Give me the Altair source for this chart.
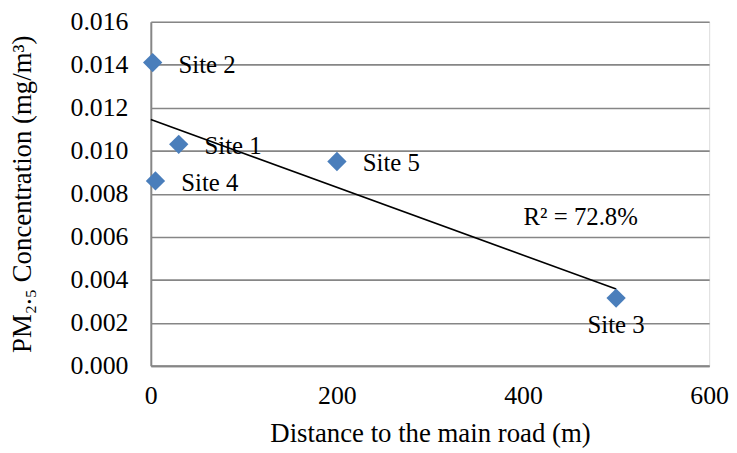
import altair as alt
import pandas as pd

sites = ["Site 1", "Site 2", "Site 3", "Site 4", "Site 5"]
distance_m = [30, 2, 500, 5, 200]
pm25_mg_m3 = [0.0103, 0.0141, 0.00315, 0.0086, 0.0095]

x_ticks = [0, 200, 400, 600]
y_ticks = [0.000, 0.002, 0.004, 0.006, 0.008, 0.010, 0.012, 0.014, 0.016]

r2_label = ["R\u00b2 = 72.8%"]
r2_pos_x = [462]
r2_pos_y = [0.0069]

df = pd.DataFrame({"site": sites, "dist": distance_m, "pm": pm25_mg_m3})
ann = pd.DataFrame({"label": r2_label, "x": r2_pos_x, "y": r2_pos_y})

FONT = "Liberation Serif"
GRID = "#868686"
FS = 25
TFS = 27

xscale = alt.Scale(domain=[0, 600], nice=False, zero=False)
yscale = alt.Scale(domain=[0, 0.016], nice=False)

xaxis = alt.Axis(values=x_ticks, title="Distance to the main road (m)", grid=False,
                 labelFontSize=26, titleFontSize=TFS, labelFont=FONT, titleFont=FONT,
                 labelColor="black", titleColor="black", domainColor=GRID, domainWidth=2,
                 ticks=False, labelPadding=17, titlePadding=12, titleFontWeight="normal",
                 labelFlush=False)
yaxis = alt.Axis(values=y_ticks, format=".3f", title="PM\u2082.\u2085  Concentration  (mg/m\u00b3)",
                 grid=True, gridColor=GRID, gridWidth=1.6,
                 labelFontSize=26, titleFontSize=TFS, labelFont=FONT, titleFont=FONT,
                 labelColor="black", titleColor="black", domainColor=GRID, domainWidth=2,
                 ticks=False, labelPadding=23, titlePadding=34, titleFontWeight="normal")

base = alt.Chart(df)

points = base.mark_point(shape="diamond", filled=True, size=380, color="#4a7ebb", opacity=1).encode(
    x=alt.X("dist:Q", scale=xscale, axis=xaxis),
    y=alt.Y("pm:Q", scale=yscale, axis=yaxis),
)

trend = base.transform_regression("dist", "pm", extent=[0, 500]).mark_line(
    color="black", strokeWidth=1.6).encode(
    x=alt.X("dist:Q", scale=xscale),
    y=alt.Y("pm:Q", scale=yscale),
)

labels_right = base.transform_filter(alt.datum.site != "Site 3").mark_text(
    align="left", baseline="middle", dx=26, dy=2, fontSize=FS, font=FONT, color="black").encode(
    x=alt.X("dist:Q", scale=xscale),
    y=alt.Y("pm:Q", scale=yscale),
    text="site:N",
)

labels_below = base.transform_filter(alt.datum.site == "Site 3").mark_text(
    align="center", baseline="top", dy=15, fontSize=FS, font=FONT, color="black").encode(
    x=alt.X("dist:Q", scale=xscale),
    y=alt.Y("pm:Q", scale=yscale),
    text="site:N",
)

r2 = alt.Chart(ann).mark_text(align="center", baseline="middle", fontSize=FS, font=FONT, color="black").encode(
    x=alt.X("x:Q", scale=xscale),
    y=alt.Y("y:Q", scale=yscale),
    text="label:N",
)

chart = alt.layer(trend, points, labels_right, labels_below, r2).properties(
    width=563, height=347,
    autosize="none",
    padding={"left": 144, "top": 12, "right": 20, "bottom": 85},
).configure_view(stroke=GRID, strokeWidth=2).configure(background="white")

chart.save("out.html", embed_options={"renderer": "svg", "actions": False})
